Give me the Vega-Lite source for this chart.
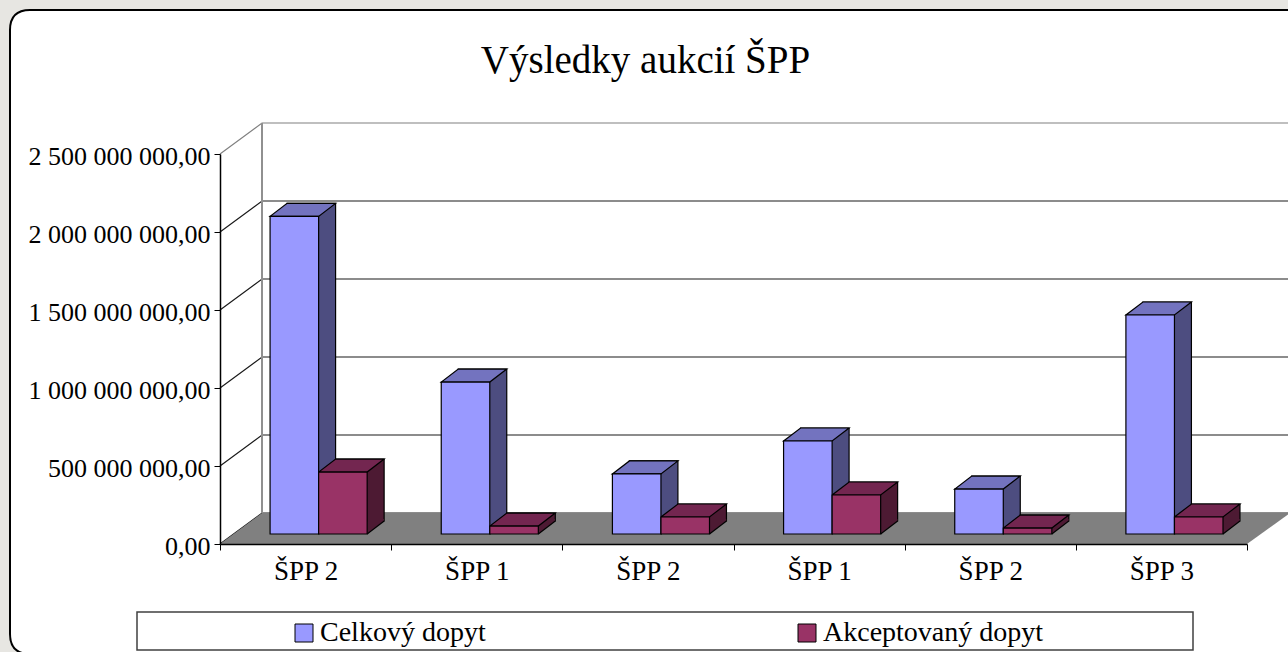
{
"$schema":"https://vega.github.io/schema/vega-lite/v6.json",
"width":1027,"height":390,
"autosize":{"type":"none"},
"padding":{"left":220,"top":154,"right":41,"bottom":108},
"background":"#e7e6e2",
"title":{"text":"Výsledky aukcií ŠPP","font":"Liberation Serif","fontSize":39,"fontWeight":"normal","color":"#000000","anchor":"middle","dx":-88,"baseline":"alphabetic","offset":-106,"zindex":1},
"config":{"view":{"stroke":null},"locale":{"number":{"decimal":",","thousands":" ","grouping":[3],"currency":["",""]}}},
"datasets":{
"aukce":[
{"aukce":"1 ŠPP 2","serie":"Celkový dopyt","hodnota":2036000000},
{"aukce":"1 ŠPP 2","serie":"Akceptovaný dopyt","hodnota":397000000},
{"aukce":"2 ŠPP 1","serie":"Celkový dopyt","hodnota":974000000},
{"aukce":"2 ŠPP 1","serie":"Akceptovaný dopyt","hodnota":51000000},
{"aukce":"3 ŠPP 2","serie":"Celkový dopyt","hodnota":385000000},
{"aukce":"3 ŠPP 2","serie":"Akceptovaný dopyt","hodnota":109000000},
{"aukce":"4 ŠPP 1","serie":"Celkový dopyt","hodnota":596000000},
{"aukce":"4 ŠPP 1","serie":"Akceptovaný dopyt","hodnota":250000000},
{"aukce":"5 ŠPP 2","serie":"Celkový dopyt","hodnota":288000000},
{"aukce":"5 ŠPP 2","serie":"Akceptovaný dopyt","hodnota":38000000},
{"aukce":"6 ŠPP 3","serie":"Celkový dopyt","hodnota":1404000000},
{"aukce":"6 ŠPP 3","serie":"Akceptovaný dopyt","hodnota":109000000}
],
"mrizka":[{"v":0},{"v":500000000},{"v":1000000000},{"v":1500000000},{"v":2000000000},{"v":2500000000}],
"nula":[{"v":0}]
},
"encoding":{
"x":{"field":"aukce","type":"nominal","title":null,
"scale":{"paddingInner":0,"paddingOuter":0},
"axis":{"zindex":1,"tickBand":"extent","labelAngle":0,"labelExpr":"substring(datum.label,2)","labelFont":"Liberation Serif","labelFontSize":27,"labelColor":"#000000","labelPadding":8,"labelBaseline":"top","domainColor":"#000000","tickColor":"#000000","tickSize":6,"domainWidth":1.5,"tickWidth":1,"grid":false}},
"xOffset":{"field":"serie","type":"nominal","sort":["Celkový dopyt","Akceptovaný dopyt"],"scale":{"type":"band","paddingInner":0,"paddingOuter":0.763,"align":0.676}},
"y":{"field":"hodnota","type":"quantitative","title":null,"scale":{"domain":[0,2500000000],"nice":false},
"axis":{"zindex":1,"title":null,"values":[0,500000000,1000000000,1500000000,2000000000,2500000000],"format":",.2f","labelFont":"Liberation Serif","labelFontSize":26,"labelColor":"#000000","labelPadding":4,"labelLimit":400,"labelOffset":2,"domainColor":"#000000","tickColor":"#000000","tickSize":6,"domainWidth":1.5,"tickWidth":1,"grid":false}}
},
"layer":[
{"data":{"name":"nula"},
"mark":{"type":"point","filled":true,"size":4,"opacity":1,"fill":"#ffffff","stroke":"#000000","strokeWidth":2,
"shape":"M-190,-534L1100,-534L1100,110L-190,110Q-210,110 -210,90L-210,-514Q-210,-534 -190,-534Z"},
"encoding":{"x":{"value":0},"xOffset":null,"y":{"field":"v","type":"quantitative","title":null}}},
{"data":{"name":"nula"},
"mark":{"type":"point","filled":true,"size":4,"opacity":1,"fill":"#ffffff","stroke":"#404040","strokeWidth":1.5,
"shape":"M-83,68L973,68L973,106L-83,106Z"},
"encoding":{"x":{"value":0},"xOffset":null,"y":{"field":"v","type":"quantitative","title":null}}},
{"data":{"name":"mrizka"},
"mark":{"type":"point","filled":false,"size":4,"opacity":1,"strokeWidth":1.2,"shape":"M0,0L42,-31L1070,-31"},
"encoding":{"x":{"value":0},"xOffset":null,"y":{"field":"v","type":"quantitative","title":null},
"stroke":{"condition":{"test":"datum.v==2500000000","value":"#808080"},"value":"#1a1a1a"}}},
{"data":{"name":"nula"},
"mark":{"type":"point","filled":false,"size":4,"opacity":1,"stroke":"#909090","strokeWidth":2,"shape":"M42,-31L42,-421"},
"encoding":{"x":{"value":0},"xOffset":null,"y":{"field":"v","type":"quantitative","title":null}}},
{"data":{"name":"nula"},
"mark":{"type":"point","filled":true,"size":4,"opacity":1,"fill":"#808080","strokeWidth":0,"shape":"M0,0L42,-31L1070,-31L1027,0Z"},
"encoding":{"x":{"value":0},"xOffset":null,"y":{"field":"v","type":"quantitative","title":null}}},
{"data":{"name":"aukce"},
"mark":{"type":"bar","stroke":"#000000","strokeWidth":1.2,"yOffset":-23,"y2Offset":-23},
"encoding":{"xOffset":{"field":"serie","type":"nominal","sort":["Celkový dopyt","Akceptovaný dopyt"],"scale":{"type":"band","paddingInner":0,"paddingOuter":0.763,"align":0.905}},"y2":{"datum":0},"color":{"field":"serie","type":"nominal","legend":null,"sort":["Celkový dopyt","Akceptovaný dopyt"],"scale":{"range":["#4d4d80","#4d1a33"]}}}},
{"data":{"name":"aukce"},
"mark":{"type":"point","filled":true,"size":4,"opacity":1,"strokeWidth":0,"shape":"M24.25,-10L41,-23L41,-25L24.25,-25Z"},
"encoding":{"y":{"datum":0},"color":{"field":"serie","type":"nominal","legend":null,"sort":["Celkový dopyt","Akceptovaný dopyt"],"scale":{"range":["#4d4d80","#4d1a33"]}}}},
{"data":{"name":"aukce"},
"mark":{"type":"point","filled":false,"size":4,"opacity":1,"stroke":"#000000","strokeWidth":1.2,"shape":"M24.25,-10L41.25,-23"},
"encoding":{"y":{"datum":0}}},
{"data":{"name":"aukce"},
"mark":{"type":"point","filled":true,"size":4,"opacity":1,"stroke":"#000000","strokeWidth":1.2,"shape":"M-24.25,-10L24.25,-10L41.25,-23L-7.25,-23Z"},
"encoding":{"color":{"field":"serie","type":"nominal","legend":null,"sort":["Celkový dopyt","Akceptovaný dopyt"],"scale":{"range":["#7373bf","#732650"]}}}},
{"data":{"name":"aukce"},
"mark":{"type":"bar","stroke":"#000000","strokeWidth":1.2,"yOffset":-10,"y2Offset":-10},
"encoding":{"y2":{"datum":0},"color":{"field":"serie","type":"nominal","sort":["Celkový dopyt","Akceptovaný dopyt"],"scale":{"range":["#9999ff","#993366"]},
"legend":{"orient":"none","legendX":70,"legendY":465,"title":null,"direction":"horizontal","columns":2,"padding":0,"columnPadding":307,"symbolType":"square","symbolSize":324,"symbolStrokeColor":"#000000","symbolStrokeWidth":1,"symbolOpacity":1,"labelFont":"Liberation Serif","labelFontSize":28,"labelColor":"#000000","labelOffset":2,"labelLimit":400}}}}
],
"resolve":{"scale":{"color":"independent","xOffset":"independent"}}
}
